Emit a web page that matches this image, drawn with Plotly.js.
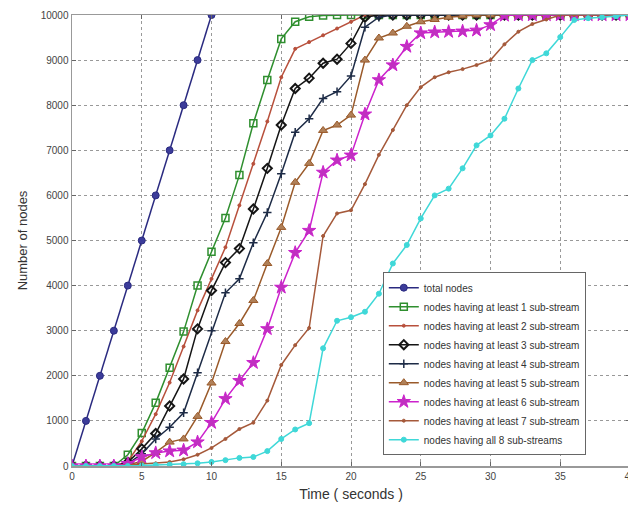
<!DOCTYPE html>
<html>
<head>
<meta charset="utf-8">
<script src="https://cdn.plot.ly/plotly-3.0.1.min.js"></script>
<style>
html,body{margin:0;padding:0;overflow:hidden;background:#fff;}
#chart{width:640px;height:508px;}
</style>
</head>
<body>
<div id="chart"></div>
<script>
// ---- data ----
const timeTotal = [0,1,2,3,4,5,6,7,8,9,10];
const totalNodes = [0,1000,2000,3000,4000,5000,6000,7000,8000,9000,10000];

const time = [0,1,2,3,4,5,6,7,8,9,10,11,12,13,14,15,16,17,18,19,20,21,22,23,24,25,26,27,28,29,30,31,32,33,34,35,36,37,38,39,40];

const atLeast1 = [0,0,0,0,250,730,1400,2180,2980,4000,4750,5500,6450,7600,8560,9470,9850,9960,9990,10000,10000,10000,10000,10000,10000,10000,10000,10000,10000,10000,10000,10000,10000,10000,10000,10000,10000,10000,10000,10000,10000];
const atLeast2 = [0,0,0,0,100,550,1150,1850,2650,3450,4150,4850,5780,6700,7640,8620,9250,9400,9550,9700,9850,10000,10000,10000,10000,10000,10000,10000,10000,10000,10000,10000,10000,10000,10000,10000,10000,10000,10000,10000,10000];
const atLeast3 = [0,0,0,0,80,380,720,1330,1930,3040,3890,4510,4820,5700,6600,7560,8370,8600,8930,9020,9370,9950,10000,10000,10000,10000,10000,10000,10000,10000,10000,10000,10000,10000,10000,10000,10000,10000,10000,10000,10000];
const atLeast4 = [0,0,0,0,50,270,600,860,1180,2070,3000,3840,4150,4950,5620,6480,7400,7700,8150,8300,8650,9730,9950,10000,10000,10000,10000,10000,10000,10000,10000,10000,10000,10000,10000,10000,10000,10000,10000,10000,10000];
const atLeast5 = [0,0,0,0,30,100,300,530,600,1100,1840,2760,3160,3670,4490,5290,6290,6710,7440,7560,7780,9000,9490,9600,9750,9850,9900,9950,9980,10000,10000,10000,10000,10000,10000,10000,10000,10000,10000,10000,10000];
const atLeast6 = [0,0,0,0,50,200,290,330,350,530,960,1490,1890,2290,3040,3960,4730,5220,6510,6780,6890,7800,8560,8890,9300,9600,9620,9630,9640,9660,9780,9990,10000,10000,10000,10000,10000,10000,10000,10000,10000];
const atLeast7 = [0,0,0,0,20,40,60,90,150,250,400,600,820,960,1450,2240,2680,3060,5100,5600,5670,6250,6900,7450,8000,8400,8620,8730,8800,8890,9000,9350,9630,9800,9900,10000,10000,10000,10000,10000,10000];
const all8 = [0,0,0,0,0,10,20,30,40,60,90,130,180,200,330,600,810,950,2610,3220,3300,3420,3820,4490,4900,5490,6000,6150,6600,7110,7330,7700,8370,9000,9150,9510,9890,9930,9950,9970,10000];

const seriesNames = [
  'total nodes',
  'nodes having at least 1 sub-stream',
  'nodes having at least 2 sub-stream',
  'nodes having at least 3 sub-stream',
  'nodes having at least 4 sub-stream',
  'nodes having at least 5 sub-stream',
  'nodes having at least 6 sub-stream',
  'nodes having at least 7 sub-stream',
  'nodes having all 8 sub-streams'
];
const xTicks = [0,5,10,15,20,25,30,35,40];
const yTicks = [0,1000,2000,3000,4000,5000,6000,7000,8000,9000,10000];

// ---- styles ----
function tr(x, y, name, color, symbol, size, mcolor, mline){
  return {
    x: x, y: y, name: name, type: 'scatter', mode: 'lines+markers',
    line: {color: color, width: 1.5},
    marker: {symbol: symbol, size: size, color: mcolor || color,
             line: {color: color, width: mline === undefined ? 1 : mline}}
  };
}

const data = [
  tr(timeTotal, totalNodes, seriesNames[0], '#2a2a80', 'circle', 7, '#3c3c9a', 1),
  tr(time, atLeast1, seriesNames[1], '#2f8f2f', 'square-open', 7, null, 1.5),
  tr(time, atLeast2, seriesNames[2], '#b8503c', 'circle', 3, null, 1),
  tr(time, atLeast3, seriesNames[3], '#151515', 'diamond-open', 7, null, 2),
  tr(time, atLeast4, seriesNames[4], '#1d2b46', 'cross-thin', 6, null, 1.5),
  tr(time, atLeast5, seriesNames[5], '#9a5a2a', 'triangle-up', 8, '#b08058', 1),
  tr(time, atLeast6, seriesNames[6], '#cc22cc', 'star', 10, '#c030c0', 1),
  tr(time, atLeast7, seriesNames[7], '#a5593a', 'circle', 3, null, 1),
  tr(time, all8, seriesNames[8], '#3fd8d8', 'circle', 5, null, 1)
];

const axisFont = {family: 'Liberation Sans, Arial, sans-serif', size: 10, color: '#444'};

const layout = {
  width: 640, height: 508,
  margin: {l: 72, r: 10, t: 15, b: 42},
  paper_bgcolor: '#fff', plot_bgcolor: '#fff',
  showlegend: true,
  xaxis: {
    range: [0, 40], tickvals: xTicks, ticktext: xTicks.map(String),
    ticks: 'inside', ticklen: 4, tickcolor: '#666',
    showline: true, linecolor: '#999', linewidth: 1.5, mirror: 'ticks',
    showgrid: true, gridcolor: '#999', griddash: 'dot', gridwidth: 1,
    zeroline: false, tickfont: axisFont,
    title: {text: 'Time ( seconds )', font: {family: 'Liberation Sans, Arial, sans-serif', size: 14, color: '#333'}, standoff: 8}
  },
  yaxis: {
    range: [0, 10000], tickvals: yTicks, ticktext: yTicks.map(String),
    ticks: 'inside', ticklen: 4, tickcolor: '#666',
    showline: true, linecolor: '#999', linewidth: 1.5, mirror: 'ticks',
    showgrid: true, gridcolor: '#999', griddash: 'dot', gridwidth: 1,
    zeroline: false, tickfont: axisFont,
    title: {text: 'Number of nodes', font: {family: 'Liberation Sans, Arial, sans-serif', size: 13, color: '#333'}, standoff: 10}
  },
  legend: {
    x: 0.557, y: 0.024, xanchor: 'left', yanchor: 'bottom',
    bgcolor: '#fff', bordercolor: '#666', borderwidth: 1,
    font: {family: 'Liberation Sans, Arial, sans-serif', size: 10, color: '#333'},
    tracegroupgap: 0
  }
};

Plotly.newPlot('chart', data, layout, {displayModeBar: false, staticPlot: true});
</script>
</body>
</html>
